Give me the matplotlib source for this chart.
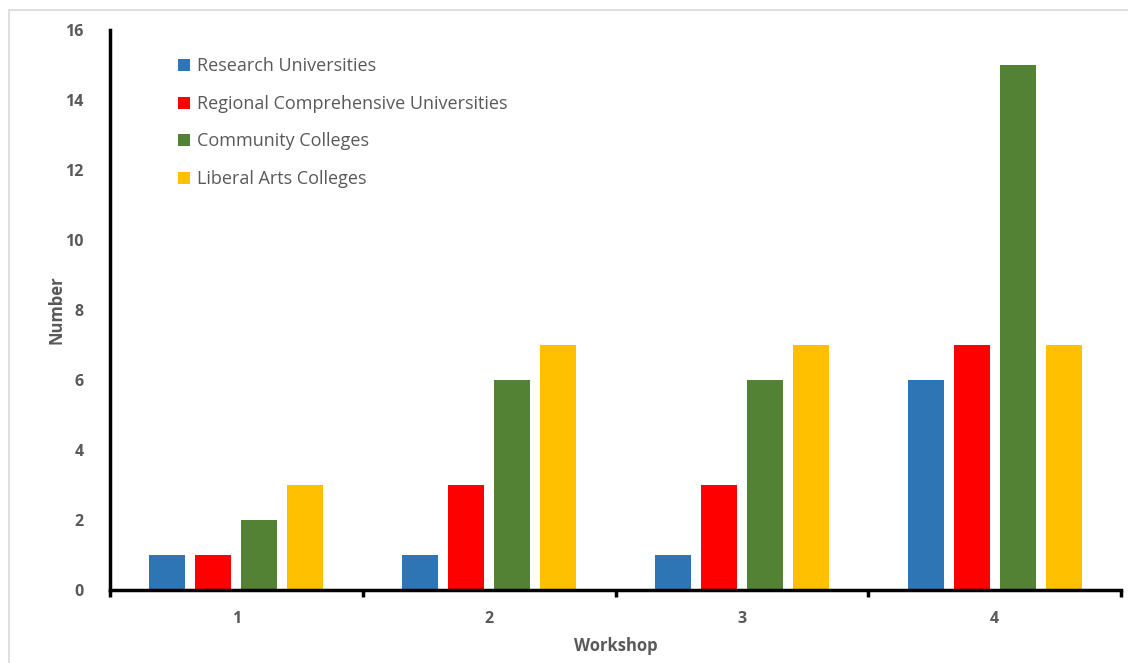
import numpy as np
import matplotlib.pyplot as plt
from matplotlib.patches import Rectangle

workshops = ['1', '2', '3', '4']
research = [1, 1, 1, 6]
regional = [1, 3, 3, 7]
community = [2, 6, 6, 15]
liberal_arts = [3, 7, 7, 7]

series = [
    ('Research Universities', research, '#2E75B6'),
    ('Regional Comprehensive Universities', regional, '#FF0000'),
    ('Community Colleges', community, '#548235'),
    ('Liberal Arts Colleges', liberal_arts, '#FFC000'),
]

txt = '#595959'
plt.rcParams['font.family'] = ['Open Sans', 'DejaVu Sans']

fig = plt.figure(figsize=(11.28, 6.63), dpi=100)
ax = fig.add_axes([110 / 1128, 1 - 590 / 663, 1011 / 1128, 560 / 663])

# chart frame
fig.patches.append(Rectangle((8.5 / 1128, -0.01), 1.05, 1 - 10 / 663 + 0.01,
                             transform=fig.transFigure, fill=False,
                             edgecolor='#D9D9D9', linewidth=1.2))

x = np.arange(len(workshops))
width = 36 / 253
step = 46 / 253
for i, (name, vals, col) in enumerate(series):
    ax.bar(x + (i - 1.5) * step, vals, width, color=col, label=name)

ax.set_xlim(-0.5, len(workshops) - 0.5)
ax.set_ylim(0, 16)
ax.set_yticks(range(0, 17, 2))
ax.set_xticks(x)
ax.set_xticklabels(workshops)
ax.set_xticks(np.arange(-0.5, len(workshops), 1), minor=True)
ax.tick_params(axis='x', which='major', length=0, pad=15)
ax.tick_params(axis='x', which='minor', length=5, width=2.5, direction='out')
ax.tick_params(axis='y', length=0, pad=19)
for lab in ax.get_xticklabels() + ax.get_yticklabels():
    lab.set_fontweight('bold')
    lab.set_color(txt)
    lab.set_fontsize(11.5)

for s in ['top', 'right']:
    ax.spines[s].set_visible(False)
for s in ['left', 'bottom']:
    ax.spines[s].set_linewidth(2.5)
    ax.spines[s].set_color('black')

ax.set_ylabel('Number', fontsize=12, fontweight='bold', color=txt, labelpad=0)
ax.set_xlabel('Workshop', fontsize=12, fontweight='bold', color=txt, labelpad=7)

leg = ax.legend(loc='upper left', bbox_to_anchor=(0.051, 0.98), frameon=False,
                fontsize=13, handlelength=0.65, handleheight=0.65,
                handletextpad=0.4, labelspacing=1.08)
for t in leg.get_texts():
    t.set_color(txt)

fig.savefig('out.png', dpi=100)
